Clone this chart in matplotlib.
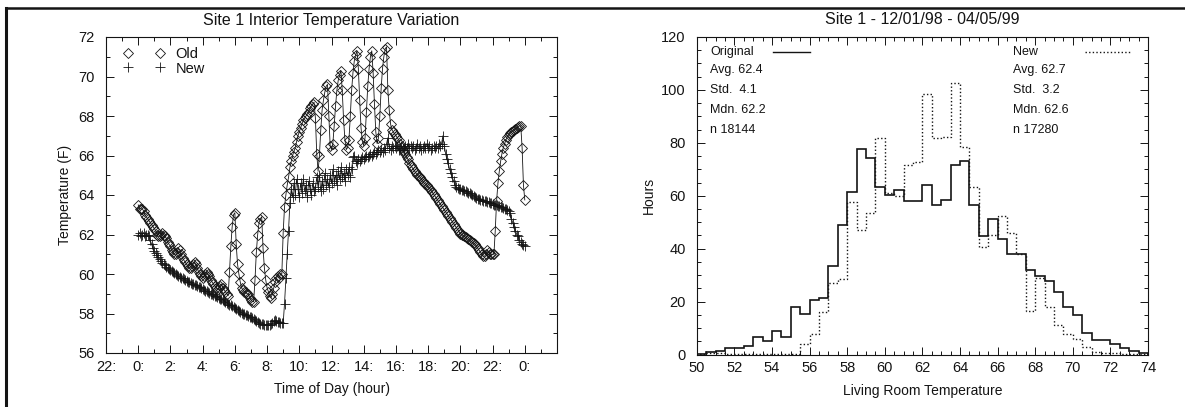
import numpy as np
import matplotlib
matplotlib.use("Agg")
import matplotlib.pyplot as plt
from matplotlib.lines import Line2D
from matplotlib.ticker import MultipleLocator, FixedLocator

plt.rcParams['font.family'] = ['Liberation Sans', 'DejaVu Sans']

# ---------------- data: left chart (5-minute samples, hour 0 -> 24) ----------------
sample_minutes = 5
old_temp = [
    63.5, 63.3, 63.3, 63.3, 63.2, 63.0, 62.9, 62.8, 62.7, 62.6, 62.5, 62.4,
    62.3, 62.2, 62.0, 61.9, 61.9, 62.0, 62.1, 62.0, 61.9, 61.8, 61.6, 61.5,
    61.4, 61.2, 61.1, 61.0, 61.0, 61.1, 61.3, 61.2, 61.0, 60.8, 60.7, 60.6,
    60.5, 60.4, 60.3, 60.3, 60.4, 60.5, 60.6, 60.5, 60.3, 60.1, 60.0, 59.9,
    59.8, 59.9, 60.0, 60.1, 60.0, 59.9, 59.7, 59.6, 59.5, 59.4, 59.3, 59.2,
    59.3, 59.4, 59.5, 59.3, 59.2, 59.1, 59.0, 58.9, 60.1, 61.4, 62.4, 63.0,
    63.1, 61.5, 60.5, 60.0, 59.6, 59.3, 59.2, 59.1, 59.1, 59.0, 59.0, 58.8,
    58.7, 58.6, 58.6, 59.7, 61.1, 62.0, 62.6, 62.8, 62.9, 61.3, 60.3, 59.7,
    59.3, 59.1, 58.9, 58.8, 59.0, 59.3, 59.6, 59.8, 59.9, 59.8, 60.0, 60.0,
    62.1, 63.4, 64.0, 64.5, 64.9, 65.4, 65.7, 66.0, 66.2, 66.4, 66.7, 67.0,
    67.2, 67.4, 67.6, 67.8, 67.9, 68.0, 68.1, 68.2, 68.4, 68.5, 68.6, 68.7,
    67.9, 66.1, 65.2, 66.0, 67.3, 68.3, 68.8, 69.2, 69.5, 69.6, 68.0, 66.5,
    66.3, 66.6, 67.5, 68.5, 69.3, 69.8, 70.1, 70.3, 69.3, 67.8, 66.8, 66.3,
    66.4, 66.8, 68.0, 69.3, 70.2, 70.8, 71.1, 71.3, 70.4, 68.8, 67.4, 66.7,
    66.5, 66.9, 68.2, 69.5, 70.4, 71.0, 71.3, 70.2, 68.6, 67.2, 66.6, 66.9,
    68.0, 69.4, 70.4, 71.0, 71.4, 71.5, 69.3, 68.3, 67.6, 67.3, 67.2, 67.1,
    67.0, 66.9, 66.8, 66.6, 66.45, 66.3, 66.2, 66.1, 65.9, 65.8, 65.6, 65.5,
    65.4, 65.3, 65.2, 65.1, 65.0, 64.95, 64.9, 64.8, 64.7, 64.6, 64.55, 64.5,
    64.4, 64.35, 64.25, 64.15, 64.05, 63.95, 63.85, 63.75, 63.65, 63.55, 63.45, 63.35,
    63.25, 63.15, 63.05, 62.95, 62.85, 62.75, 62.65, 62.55, 62.45, 62.35, 62.25, 62.15,
    62.05, 62.0, 61.95, 61.9, 61.85, 61.8, 61.75, 61.7, 61.65, 61.6, 61.55, 61.5,
    61.4, 61.3, 61.2, 61.1, 61.0, 60.9, 60.9, 61.0, 61.2, 61.1, 61.0, 61.0,
    61.0, 61.0, 62.2, 63.7, 64.6, 65.2, 65.7, 66.1, 66.4, 66.6, 66.8, 66.95,
    67.05, 67.15, 67.2, 67.25, 67.3, 67.35, 67.4, 67.45, 67.5, 67.5, 66.4, 64.5,
    63.75,
]
new_temp = [
    62.0, 62.1, 61.9, 62.0, 62.1, 61.9, 62.0, 62.0, 61.9, 61.7, 61.5, 61.3,
    61.15, 61.05, 60.95, 60.85, 60.75, 60.65, 60.55, 60.5, 60.45, 60.35, 60.3, 60.25,
    60.2, 60.15, 60.1, 60.05, 60.0, 59.95, 59.9, 59.85, 59.8, 59.78, 59.75, 59.7,
    59.65, 59.6, 59.58, 59.55, 59.5, 59.47, 59.45, 59.42, 59.4, 59.36, 59.33, 59.3,
    59.25, 59.2, 59.15, 59.12, 59.1, 59.05, 59.0, 58.97, 58.95, 58.9, 58.87, 58.85,
    58.8, 58.75, 58.72, 58.7, 58.65, 58.6, 58.55, 58.5, 58.45, 58.42, 58.4, 58.35,
    58.3, 58.25, 58.2, 58.15, 58.1, 58.05, 58.0, 57.97, 57.93, 57.9, 57.87, 57.84,
    57.8, 57.75, 57.7, 57.65, 57.6, 57.55, 57.5, 57.48, 57.47, 57.45, 57.44, 57.43,
    57.4, 57.4, 57.42, 57.45, 57.5, 57.6, 57.65, 57.62, 57.58, 57.55, 57.5, 57.5,
    57.5, 58.5, 59.8, 61.0, 62.2, 63.6, 64.3, 63.9, 64.6, 64.0, 64.8, 64.3,
    63.9, 64.6, 64.1, 64.8, 64.2, 64.5, 63.9, 64.7, 64.3, 64.0, 64.6, 64.2,
    64.3, 64.9, 64.4, 65.0, 64.2, 64.7, 64.3, 65.1, 64.5, 64.8, 64.4, 65.0,
    64.6, 65.3, 64.7, 65.0, 64.5, 65.2, 64.8, 65.4, 64.9, 65.1, 64.7, 65.3,
    65.0, 65.4, 64.9, 65.3, 65.9, 66.0, 65.7, 65.6, 65.8, 65.7, 65.8, 65.9,
    65.8, 65.9, 66.0, 65.9, 66.0, 66.1, 66.0, 66.1, 66.2, 66.1, 66.2, 66.3,
    66.2, 66.3, 66.2, 66.4, 66.3, 66.6, 66.9, 66.4, 66.3, 66.5, 66.4, 66.5,
    66.4, 66.5, 66.3, 66.4, 66.5, 66.4, 66.3, 66.5, 66.4, 66.6, 66.4, 66.5,
    66.4, 66.5, 66.3, 66.4, 66.6, 66.4, 66.5, 66.3, 66.4, 66.5, 66.4, 66.6,
    66.4, 66.5, 66.3, 66.4, 66.5, 66.4, 66.5, 66.4, 66.6, 66.5, 66.6, 67.0,
    66.5, 66.1, 65.8, 65.6, 65.3, 65.1, 64.9, 64.7, 64.5, 64.4, 64.35, 64.3,
    64.3, 64.25, 64.25, 64.2, 64.2, 64.15, 64.1, 64.1, 64.05, 64.0, 63.95, 63.9,
    63.85, 63.8, 63.8, 63.75, 63.75, 63.7, 63.7, 63.7, 63.65, 63.65, 63.6, 63.6,
    63.55, 63.5, 63.5, 63.5, 63.45, 63.45, 63.4, 63.4, 63.35, 63.3, 63.3, 63.25,
    63.2, 63.1, 62.8, 62.6, 62.4, 62.2, 62.0, 61.9, 61.7, 61.6, 61.5, 61.45,
    61.4,
]
hour_ticks = [-2, 0, 2, 4, 6, 8, 10, 12, 14, 16, 18, 20, 22, 24]
hour_labels = ["22:", "0:", "2:", "4:", "6:", "8:", "10:", "12:", "14:", "16:",
               "18:", "20:", "22:", "0:"]

# ---------------- data: right chart (histogram, 0.5 F bins 50 -> 74) ----------------
bin_start, bin_stop, bin_width = 50.0, 74.0, 0.5
hours_original = [
    0.3, 0.9, 1.3, 2.3, 2.5, 3.2, 6.5, 5.2, 9.0, 6.7, 18.0, 15.2,
    20.7, 21.4, 33.3, 48.8, 61.3, 77.5, 74.3, 63.4, 60.4, 62.3, 57.9, 57.9,
    64.2, 56.5, 58.3, 71.5, 73.0, 56.5, 44.6, 51.4, 43.7, 38.0, 38.0, 32.1,
    29.6, 27.8, 23.8, 17.8, 14.8, 8.3, 5.5, 5.3, 4.0, 2.5, 1.2, 0.6,
]
hours_new = [
    0.2, 0.5, 0.5, 0.2, 0.2, 0.2, 0.2, 0.2, 0.2, 0.2, 0.2, 4.0,
    7.7, 15.9, 27.1, 28.6, 57.8, 47.1, 53.4, 82.0, 61.0, 60.0, 71.5, 72.7,
    98.5, 81.8, 82.2, 102.6, 78.3, 63.4, 40.5, 45.2, 52.2, 45.8, 38.0, 16.4,
    28.8, 17.8, 11.2, 7.7, 5.9, 2.7, 1.0, 0.5, 0.4, 0.3, 0.3, 0.2,
]
orig_label, new_label = "Original", "New"
orig_stats = ["Avg. 62.4", "Std.  4.1", "Mdn. 62.2", "n 18144"]
new_stats = ["Avg. 62.7", "Std.  3.2", "Mdn. 62.6", "n 17280"]

# ---------------- figure ----------------
W, H = 1185, 407
fig = plt.figure(figsize=(W / 100, H / 100), dpi=100)
ink = '#141414'

def style_axes(ax):
    for s in ax.spines.values():
        s.set_linewidth(0.8)
        s.set_color(ink)
    ax.tick_params(which='both', direction='in', top=True, right=True,
                   color=ink, width=0.7, labelsize=10.5, labelcolor=ink)
    ax.tick_params(axis='y', which='both', pad=8)
    ax.tick_params(axis='x', which='both', pad=5)
    ax.tick_params(which='major', length=6)
    ax.tick_params(which='minor', length=3)

# left axes
ax1 = fig.add_axes([106 / W, 1 - 353 / H, (557 - 106) / W, (353 - 37) / H])
t = np.arange(len(old_temp)) * sample_minutes / 60.0
t_new = np.arange(len(new_temp)) * sample_minutes / 60.0
ax1.plot(t, old_temp, color=ink, lw=0.6, marker='D', ms=5, mfc='none',
         mec=ink, mew=0.6, label='Old')
ax1.plot(t_new, new_temp, color=ink, lw=0.6, marker='+', ms=7, mec=ink,
         mew=0.6, label='New')
ax1.set_xlim(-2, 26)
ax1.set_ylim(56, 72)
ax1.xaxis.set_major_locator(FixedLocator(hour_ticks))
ax1.set_xticklabels(hour_labels)
ax1.xaxis.set_minor_locator(MultipleLocator(1))
ax1.yaxis.set_major_locator(MultipleLocator(2))
ax1.yaxis.set_minor_locator(MultipleLocator(1))
style_axes(ax1)
ax1.set_title("Site 1 Interior Temperature Variation", fontsize=11.5, color=ink, pad=9)
ax1.set_xlabel("Time of Day (hour)", fontsize=10, color=ink, labelpad=6)
ax1.set_ylabel("Temperature (F)", fontsize=10, color=ink, labelpad=5)
h_old = Line2D([], [], ls='none', marker='D', ms=5, mfc='none', mec=ink, mew=0.6)
h_new = Line2D([], [], ls='none', marker='+', ms=7, mec=ink, mew=0.6)
ax1.legend([h_old, h_new], ['Old', 'New'], numpoints=2, loc='upper left',
           bbox_to_anchor=(0.038, 0.969), frameon=False, fontsize=10.5,
           handlelength=2.8, handletextpad=0.8, labelspacing=0.05,
           borderpad=0, borderaxespad=0, labelcolor=ink)

# right axes
ax2 = fig.add_axes([696.7 / W, 1 - 354.5 / H, (1148 - 696.7) / W, (354.5 - 37) / H])
edges = np.arange(bin_start, bin_stop + bin_width / 2, bin_width)
ax2.stairs(hours_original, edges, color=ink, lw=1.2)
ax2.stairs(hours_new, edges, color=ink, lw=1.0, linestyle=(0, (1, 1.6)))
ax2.set_xlim(50, 74)
ax2.set_ylim(0, 120)
ax2.xaxis.set_major_locator(MultipleLocator(2))
ax2.xaxis.set_minor_locator(MultipleLocator(0.5))
ax2.yaxis.set_major_locator(MultipleLocator(20))
ax2.yaxis.set_minor_locator(MultipleLocator(5))
style_axes(ax2)
ax2.set_title("Site 1 - 12/01/98 - 04/05/99", fontsize=11.5, color=ink, pad=9)
ax2.set_xlabel("Living Room Temperature", fontsize=10, color=ink, labelpad=6)
ax2.set_ylabel("Hours", fontsize=10, color=ink, labelpad=4)

# key texts + line samples
key_y = 114.5
ax2.text(50.71, key_y, orig_label, fontsize=9, color=ink, va='center', ha='left')
ax2.text(66.84, key_y, new_label, fontsize=9, color=ink, va='center', ha='left')
h_orig = Line2D([], [], color=ink, lw=1.0)
h_newl = Line2D([], [], color=ink, lw=1.0, linestyle=(0, (1, 1.6)))
leg_a = ax2.legend([h_orig], [''], loc='center left',
                   bbox_to_anchor=(0.168, (key_y - 0.7) / 120), frameon=False,
                   fontsize=9, handlelength=3.0, handletextpad=0, borderpad=0,
                   borderaxespad=0)
ax2.add_artist(leg_a)
ax2.legend([h_newl], [''], loc='center left',
           bbox_to_anchor=(0.860, (key_y - 0.7) / 120), frameon=False,
           fontsize=9, handlelength=3.6, handletextpad=0, borderpad=0,
           borderaxespad=0)
stat_rows = [107.6, 100.0, 92.4, 85.0]
for txt, yv in zip(orig_stats, stat_rows):
    ax2.text(50.71, yv, txt, fontsize=9, color=ink, va='center', ha='left')
for txt, yv in zip(new_stats, stat_rows):
    ax2.text(66.84, yv, txt, fontsize=9, color=ink, va='center', ha='left')

# page frame (scan border)
fig.add_artist(Line2D([6 / W, 6 / W], [0, 1 - 8 / H], color=ink, lw=2.2,
                      transform=fig.transFigure))
fig.add_artist(Line2D([6 / W, 1], [1 - 8 / H, 1 - 8 / H], color=ink, lw=1.8,
                      transform=fig.transFigure))

fig.savefig("out.png", dpi=100, facecolor='white')
